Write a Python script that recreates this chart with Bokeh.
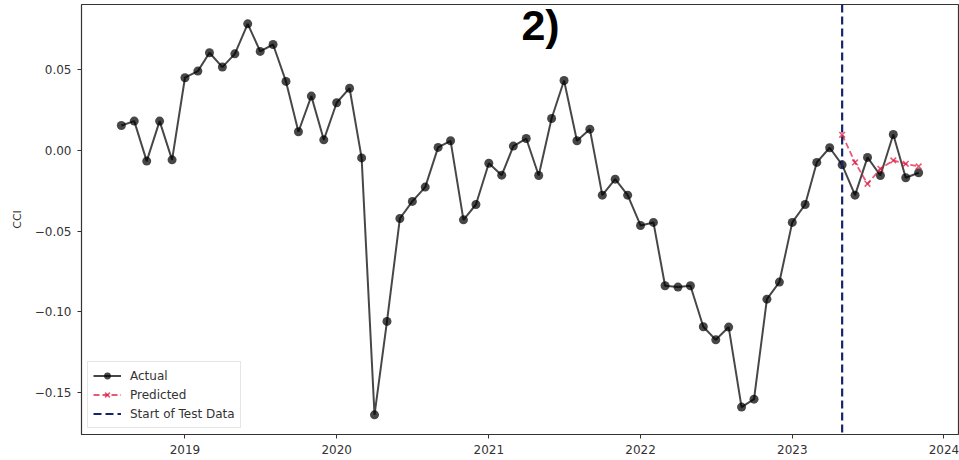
import pandas as pd
from bokeh.plotting import figure
from bokeh.models import (Span, Legend, LegendItem, FixedTicker, CustomJSTickFormatter,
                          Label, Range1d, ColumnDataSource)
from bokeh.embed import file_html
from bokeh.resources import INLINE

# ---- data ----
actual_start = "2018-08-01"
actual_values = [
    0.0155, 0.0182, -0.0066, 0.0182, -0.0058,
    0.0451, 0.0492, 0.0606, 0.0517, 0.0599, 0.0785, 0.0614, 0.0657, 0.0428, 0.0116, 0.0337, 0.0066,
    0.0296, 0.0386, -0.0046, -0.1639, -0.1060, -0.0422, -0.0316, -0.0227, 0.0019, 0.0060, -0.0430, -0.0335,
    -0.0079, -0.0153, 0.0027, 0.0074, -0.0155, 0.0198, 0.0434, 0.0060, 0.0132, -0.0277, -0.0178, -0.0277,
    -0.0465, -0.0446, -0.0839, -0.0847, -0.0839, -0.1093, -0.1174, -0.1095, -0.1591, -0.1542, -0.0922, -0.0816,
    -0.0446, -0.0335, -0.0074, 0.0017, -0.0089, -0.0277, -0.0043, -0.0155, 0.0099, -0.0169, -0.0138,
]
pred_start = "2023-05-01"
pred_values = [0.0097, -0.0074, -0.0207, -0.0114, -0.0062, -0.0083, -0.0099]
year_ticks = [2019, 2020, 2021, 2022, 2023, 2024]
y_ticks = [-0.15, -0.10, -0.05, 0.00, 0.05]
title_text = "2)"
y_label = "CCI"

actual_dates = pd.date_range(actual_start, periods=len(actual_values), freq="MS")
pred_dates = pd.date_range(pred_start, periods=len(pred_values), freq="MS")

span_days = actual_dates[-1] - actual_dates[0]
x_start = actual_dates[0] - span_days * 0.05
x_end = actual_dates[-1] + span_days * 0.05

p = figure(width=959, height=460, output_backend="svg", toolbar_location=None,
           x_axis_type="datetime",
           x_range=Range1d(x_start, x_end), y_range=Range1d(-0.1761, 0.0905),
           min_border_left=81, min_border_right=1, min_border_top=4, min_border_bottom=26)

p.xgrid.visible = False
p.ygrid.visible = False
p.outline_line_color = "#333333"
p.outline_line_width = 1.2
p.background_fill_color = "white"
p.border_fill_color = "white"

actual_src = ColumnDataSource(dict(x=actual_dates, y=actual_values))
pred_src = ColumnDataSource(dict(x=pred_dates, y=pred_values))

a_line = p.line("x", "y", source=actual_src, line_color="black", line_alpha=0.72, line_width=2)
a_pts = p.scatter("x", "y", source=actual_src, marker="circle", size=9,
                  fill_color="black", fill_alpha=0.72, line_color="black", line_alpha=0.0)

pr_line = p.line("x", "y", source=pred_src, line_color="crimson", line_alpha=0.7,
                 line_width=1.8, line_dash="6 3")
pr_pts = p.scatter("x", "y", source=pred_src, marker="x", size=8,
                   line_color="crimson", line_alpha=0.7, line_width=1.6)

test_color = "#14256b"
vline = Span(location=pred_dates[0], dimension="height", line_color=test_color,
             line_width=2.2, line_dash="8 4")
p.add_layout(vline)
# legend proxy for the Span (draws nothing in the plot)
proxy_src = ColumnDataSource(dict(x=[pred_dates[0]], y=[float("nan")]))
dummy = p.line("x", "y", source=proxy_src, line_color=test_color, line_width=2.2, line_dash="8 4")

legend = Legend(items=[
    LegendItem(label="Actual", renderers=[a_line, a_pts]),
    LegendItem(label="Predicted", renderers=[pr_line, pr_pts]),
    LegendItem(label="Start of Test Data", renderers=[dummy]),
], location="bottom_left")
legend.margin = 6
legend.padding = 5
legend.spacing = 2
legend.label_height = 17
legend.glyph_height = 17
legend.glyph_width = 28
legend.label_standoff = 9
legend.label_text_font = "DejaVu Sans"
legend.label_text_font_size = "12px"
legend.label_text_color = "#333333"
legend.border_line_color = "#cccccc"
legend.border_line_width = 1
legend.background_fill_alpha = 0.85
p.add_layout(legend)

# axes
tick_ms = [pd.Timestamp(f"{y}-01-01").value // 10**6 for y in year_ticks]
p.xaxis.ticker = FixedTicker(ticks=tick_ms)
p.xaxis.formatter = CustomJSTickFormatter(code="return String(new Date(tick).getUTCFullYear());")
p.yaxis.ticker = FixedTicker(ticks=y_ticks)
p.yaxis.formatter = CustomJSTickFormatter(
    code="var s = Math.abs(tick).toFixed(2); return (tick < -1e-9 ? '\u2212' : '') + s;")
for ax in (p.xaxis, p.yaxis):
    ax.axis_line_color = None
    ax.major_tick_line_color = "#333333"
    ax.major_tick_in = 0
    ax.major_tick_out = 4
    ax.minor_tick_line_color = None
    ax.major_label_text_font = "DejaVu Sans"
    ax.major_label_text_font_size = "12px"
    ax.major_label_text_color = "#333333"
p.xaxis.major_label_standoff = 6
p.yaxis.major_label_standoff = 6
p.yaxis.axis_label = y_label
p.yaxis.axis_label_text_font = "DejaVu Sans"
p.yaxis.axis_label_text_font_size = "11px"
p.yaxis.axis_label_text_font_style = "normal"
p.yaxis.axis_label_text_color = "#333333"
p.yaxis.axis_label_standoff = 8

title = Label(x=459, y=410, x_units="screen", y_units="screen", text=title_text,
              text_align="center", text_baseline="alphabetic",
              text_font="Liberation Sans", text_font_style="bold", text_font_size="43px",
              text_color="black")
p.add_layout(title)

open("out.html", "w").write(file_html(p, INLINE))
